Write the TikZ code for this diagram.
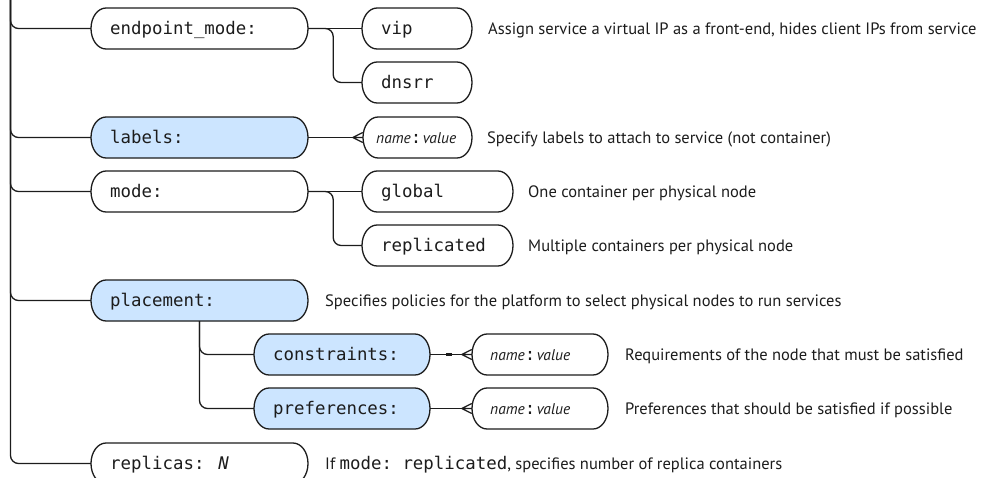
\documentclass[tikz,border=0pt]{standalone}
\usepackage{fontspec}
\setmainfont{PT Sans}
\newfontfamily\monofont[ItalicFont={DejaVu Sans Mono Oblique}]{DejaVu Sans Mono}
\usetikzlibrary{calc}

\definecolor{ink}{RGB}{28,28,28}
\definecolor{keyblue}{RGB}{204,229,255}

\newcommand\monosize{\monofont\fontsize{17.4}{20}\selectfont}
\newcommand\descsize{\fontsize{16.5}{19}\selectfont}
\newcommand\nvsize{\fontsize{15.5}{18}\selectfont}

\tikzset{
  boxline/.style={draw=ink, line width=1.3pt},
  conn/.style={draw=ink, line width=1.3pt, rounded corners=8pt},
  foot/.style={draw=ink, line width=1.2pt},
  anchorbox/.style={inner sep=0pt, minimum height=41pt},
  boxtext/.style={anchor=base west, inner sep=0pt, font=\monosize, text=ink},
  desc/.style={anchor=base west, inner sep=0pt, font=\descsize, text=ink},
}

% pill-shaped key box: name, left x, right x, centre y, fill, content
\newcommand\pill[6]{%
  \path[boxline, fill=#5] (#2+15,#4-20.5) -- (#3-15,#4-20.5)
    arc[start angle=90, end angle=-90, x radius=15pt, y radius=20.5pt]
    -- (#2+15,#4+20.5)
    arc[start angle=270, end angle=90, x radius=15pt, y radius=20.5pt] -- cycle;
  \node[anchorbox, minimum width={(#3-#2)*1pt}] (#1) at ({(#2+#3)/2},#4) {};
  \node[boxtext] (#1-t) at (#2+19,#4+6) {#6};
}

% crow's foot ending on the west side of a box
\newcommand\crow[1]{%
  \draw[foot] ($(#1.west)+(-10pt,0)$) -- ($(#1.west)+(0,5pt)$)
              ($(#1.west)+(-10pt,0)$) -- (#1.west)
              ($(#1.west)+(-10pt,0)$) -- ($(#1.west)+(0,-5pt)$);
}

\newcommand\nv{{\rmfamily\itshape\nvsize name}:\hspace{1.5pt}{\rmfamily\itshape\nvsize value}}

\begin{document}
\begin{tikzpicture}[x=1pt, y=-1pt]
\useasboundingbox (0,0) rectangle (987,477);

% keys
\pill{ep}{91}{308}{28.5}{white}{endpoint\_mode:}
\pill{vip}{362}{472}{28.5}{white}{vip}
\pill{dns}{362}{472}{82.5}{white}{dnsrr}
\pill{lab}{91}{308}{137.5}{keyblue}{labels:}
\pill{mode}{91}{308}{191.5}{white}{mode:}
\pill{glob}{362}{513}{191.5}{white}{global}
\pill{repl}{362}{513}{245.5}{white}{replicated}
\pill{plc}{91}{308}{300.5}{keyblue}{placement:}
\pill{cons}{254}{430}{354.5}{keyblue}{constraints:}
\pill{pref}{254}{430}{408.5}{keyblue}{preferences:}
\pill{reps}{91}{308}{463.5}{white}{replicas: \textit{N}}

% name: value boxes
\pill{lv}{363}{472}{137.5}{white}{}
\node[boxtext] (lv-v) at (376,143.5) {\nv};
\pill{cv}{472}{608}{354.5}{white}{}
\node[boxtext] (cv-v) at (490,360.5) {\nv};
\pill{pv}{472}{608}{408.5}{white}{}
\node[boxtext] (pv-v) at (490,414.5) {\nv};

% descriptions
\node[desc] (d-vip) at (488,34.5) {Assign service a virtual IP as a front-end, hides client IPs from service};
\node[desc] (d-lv) at (487,143.5) {Specify labels to attach to service (not container)};
\node[desc] (d-glob) at (528,197.5) {One container per physical node};
\node[desc] (d-repl) at (528,251.5) {Multiple containers per physical node};
\node[desc] (d-plc) at (325,306.5) {Specifies policies for the platform to select physical nodes to run services};
\node[desc] (d-cv) at (625,360.5) {Requirements of the node that must be satisfied};
\node[desc] (d-pv) at (625,414.5) {Preferences that should be satisfied if possible};
\node[desc] (d-reps) at (325,469.5) {If {\monosize mode:\ replicated}, specifies number of replica containers};

% trunk and top-level branches
\coordinate (top) at (10.5,-12);
\foreach \k in {ep,lab,mode,plc,reps}
  \draw[conn] (top) |- (\k.west);

% endpoint_mode choices
\draw[conn] (ep.east) -- (vip.west);
\draw[conn] (ep.east) -- ++(25,0) |- (dns.west);

% labels map
\draw[conn] (lab.east) -- ($(lv.west)+(-10pt,0)$);
\crow{lv}

% mode choices
\draw[conn] (mode.east) -- (glob.west);
\draw[conn] (mode.east) -- ++(25,0) |- (repl.west);

% placement children
\draw[conn] (plc.south) |- (cons.west);
\draw[conn] (plc.south) |- (pref.west);

\draw[conn] (cons.east) -- ($(cv.west)+(-10pt,0)$);
\draw[draw=ink, line width=2.6pt] ($(cons.east)+(16pt,0)$) -- ++(6,0);
\crow{cv}

\draw[conn] (pref.east) -- ($(pv.west)+(-10pt,0)$);
\crow{pv}
\end{tikzpicture}
\end{document}
